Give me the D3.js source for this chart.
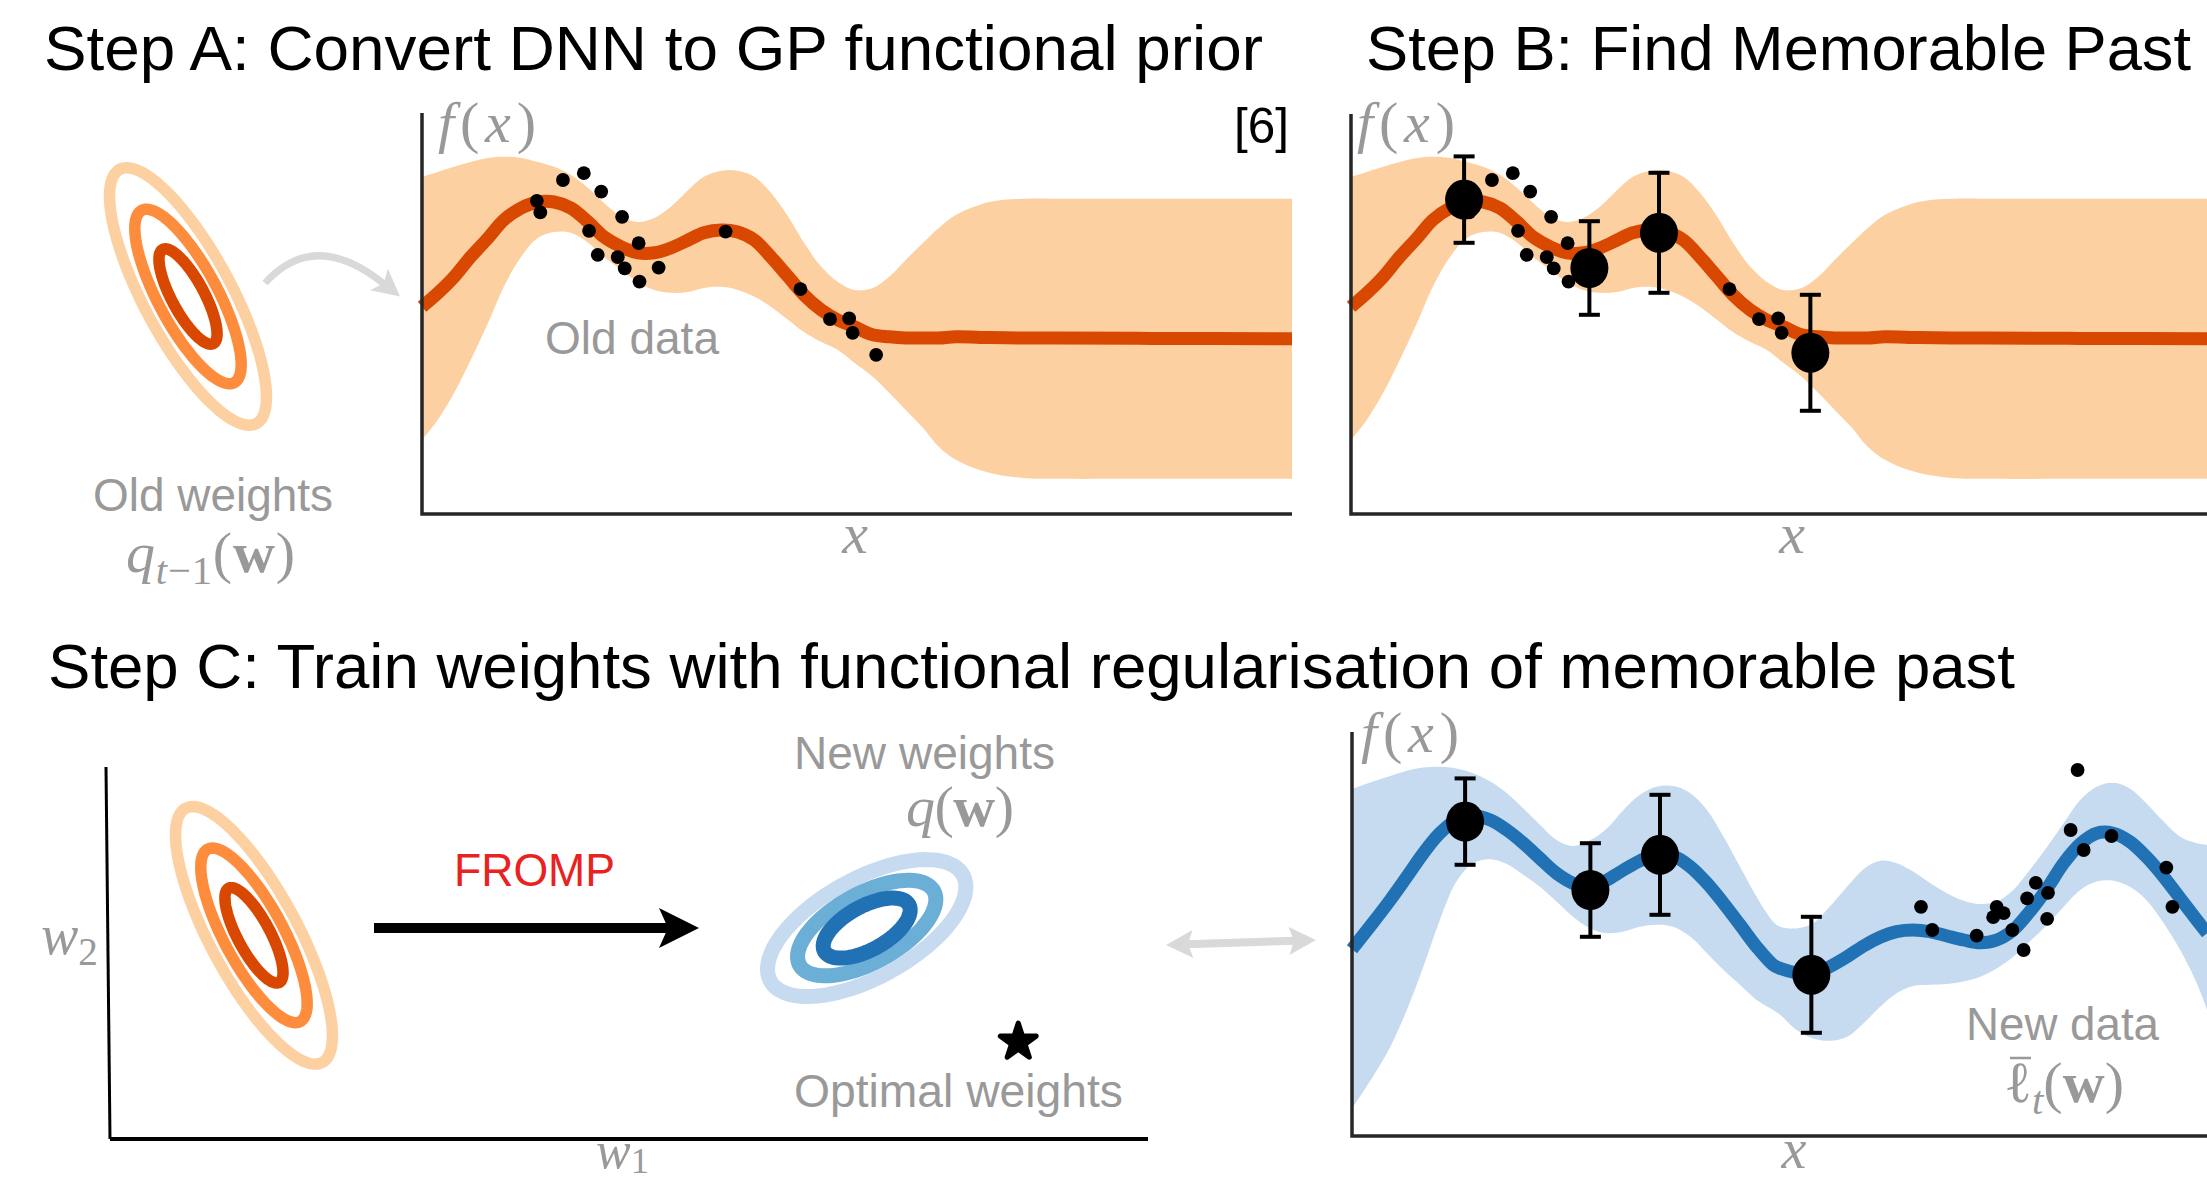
<!DOCTYPE html>
<html>
<head>
<meta charset="utf-8">
<script src="https://cdn.jsdelivr.net/npm/d3@7"></script>
<style>
  body { margin: 0; background: #fff; }
  svg { display: block; }
</style>
</head>
<body>
<script>
// ---- data (x and f(x) in arbitrary units 0..10) ----

// old task GP posterior (steps A and B)
const oldGridX = [0, 0.18, 0.37, 0.56, 0.76, 0.94, 1.14, 1.33, 1.52, 1.71, 1.91, 2.09, 2.29, 2.48, 2.67, 2.86, 3.06, 3.24, 3.44, 3.63, 3.82, 4.01, 4.21, 4.39, 4.59, 4.78, 4.97, 5.18, 5.37, 5.56, 5.76, 5.94, 6.14, 6.52, 6.91, 7.29, 8.37, 10];
const oldMean = [5.18, 5.52, 5.93, 6.43, 6.90, 7.35, 7.65, 7.80, 7.80, 7.65, 7.30, 6.93, 6.68, 6.53, 6.53, 6.65, 6.85, 7.03, 7.10, 7.05, 6.85, 6.43, 5.93, 5.48, 5.10, 4.85, 4.68, 4.48, 4.43, 4.40, 4.40, 4.40, 4.43, 4.41, 4.40, 4.40, 4.39, 4.38];
const oldUpper = [8.43, 8.55, 8.68, 8.80, 8.90, 8.93, 8.90, 8.80, 8.68, 8.48, 8.15, 7.78, 7.43, 7.30, 7.40, 7.68, 8.10, 8.43, 8.58, 8.58, 8.43, 8.03, 7.43, 6.78, 6.18, 5.80, 5.60, 5.65, 5.93, 6.35, 6.78, 7.15, 7.48, 7.80, 7.88, 7.88, 7.88, 7.88];
const oldLower = [1.85, 2.35, 3.03, 3.85, 4.78, 5.68, 6.43, 6.90, 7.05, 7.03, 6.78, 6.43, 6.10, 5.80, 5.60, 5.53, 5.55, 5.65, 5.68, 5.60, 5.43, 5.18, 4.85, 4.55, 4.30, 4.10, 3.78, 3.43, 3.03, 2.60, 2.15, 1.68, 1.35, 1.03, 0.90, 0.88, 0.88, 0.88];

// old data points
const oldDataX = [1.32, 1.36, 1.62, 1.86, 2.06, 2.30, 1.92, 2.49, 2.02, 2.25, 2.33, 2.72, 2.50, 3.49, 4.35, 4.69, 4.91, 4.95, 5.22];
const oldDataY = [7.83, 7.54, 8.35, 8.52, 8.06, 7.43, 7.08, 6.77, 6.48, 6.42, 6.14, 6.16, 5.81, 7.06, 5.62, 4.87, 4.89, 4.53, 3.98];

// memorable past (steps B and C)
const memX = [1.30, 2.74, 3.54, 5.28];
const memY = [7.86, 6.15, 7.03, 4.03];
const memErr = [1.08, 1.17, 1.50, 1.45];

// new task GP posterior (step C)
const newGridX = [0, 0.24, 0.44, 0.63, 0.82, 1.01, 1.20, 1.39, 1.59, 1.78, 1.97, 2.16, 2.35, 2.54, 2.74, 2.93, 3.12, 3.31, 3.50, 3.69, 3.89, 4.08, 4.27, 4.46, 4.65, 4.84, 4.92, 5.11, 5.30, 5.49, 5.69, 5.88, 6.07, 6.26, 6.45, 6.64, 6.84, 7.03, 7.22, 7.41, 7.60, 7.79, 7.99, 8.18, 8.37, 8.56, 8.75, 8.94, 9.13, 9.33, 9.52, 9.71, 9.83];
const newMean = [4.67, 5.33, 5.90, 6.48, 7.07, 7.57, 7.90, 8.00, 7.90, 7.65, 7.32, 6.94, 6.57, 6.32, 6.19, 6.40, 6.65, 6.88, 7.03, 7.00, 6.73, 6.32, 5.82, 5.28, 4.73, 4.28, 4.19, 4.08, 4.05, 4.23, 4.48, 4.75, 4.97, 5.11, 5.15, 5.11, 5.00, 4.90, 4.83, 4.90, 5.15, 5.61, 6.19, 6.82, 7.30, 7.57, 7.57, 7.36, 6.98, 6.48, 5.94, 5.40, 5.07];
const newUpper = [8.67, 8.86, 9.00, 9.13, 9.21, 9.23, 9.19, 9.07, 8.86, 8.57, 8.19, 7.78, 7.40, 7.25, 7.40, 7.69, 8.15, 8.53, 8.73, 8.75, 8.57, 8.15, 7.48, 6.73, 5.98, 5.36, 5.23, 5.19, 5.32, 5.73, 6.23, 6.67, 6.88, 6.82, 6.61, 6.33, 6.07, 5.88, 5.80, 5.86, 6.15, 6.65, 7.23, 7.82, 8.40, 8.73, 8.83, 8.69, 8.32, 7.86, 7.48, 7.32, 7.28];
const newLower = [0.69, 1.48, 2.23, 3.15, 4.23, 5.40, 6.36, 6.82, 6.92, 6.80, 6.53, 6.23, 5.86, 5.48, 5.19, 5.07, 5.11, 5.23, 5.28, 5.23, 4.98, 4.57, 4.15, 3.78, 3.40, 3.15, 3.03, 2.65, 2.44, 2.38, 2.48, 2.82, 3.23, 3.57, 3.75, 3.78, 3.80, 3.86, 3.98, 4.19, 4.48, 4.86, 5.28, 5.73, 6.15, 6.36, 6.38, 6.23, 5.90, 5.32, 4.65, 3.82, 3.15];

// new data points
const newDataX = [6.54, 6.67, 7.18, 7.41, 7.37, 7.49, 7.59, 7.72, 7.76, 7.86, 8.00, 7.99, 8.26, 8.34, 8.41, 8.73, 9.36, 9.43];
const newDataY = [5.73, 5.15, 5.01, 5.73, 5.47, 5.57, 5.15, 4.65, 5.94, 6.33, 6.08, 5.43, 7.65, 9.15, 7.15, 7.50, 6.71, 5.73];

// weight space gaussians (w1, w2)
const oldWCenter = [1.387, 1.96];
const oldWSd = [0.28, 0.459];
const oldWRho = -0.78;
const oldWLevels = [1, 1.83, 2.7];
const newWCenter = [7.29, 2.03];
const newWSd = [0.419, 0.289];
const newWRho = 0.6;
const newWLevels = [1, 1.59, 2.28];
const optimalW = [8.75, 0.934];

// ---- styling ----
const W = 2207, H = 1182;
const GREY = '#999999';
const SANS = '"Liberation Sans", Arial, Helvetica, sans-serif';
const SERIF = '"Liberation Serif", "DejaVu Serif", serif';
const orangeRings = ['#d94801', '#fd8d3c', '#fdd0a2'];
const blueRings = ['#2171b5', '#6baed6', '#c6dbef'];

const svg = d3.select('body').append('svg')
  .attr('width', W).attr('height', H)
  .style('background', '#fff');

// scales
const xA = d3.scaleLinear().domain([0, 10]).range([422, 1292]);
const xB = d3.scaleLinear().domain([0, 10]).range([1351, 2221]);
const xC = d3.scaleLinear().domain([0, 10]).range([1352, 2222]);
const yAB = d3.scaleLinear().domain([0, 10]).range([514, 114]);
const yC = d3.scaleLinear().domain([0, 10.1]).range([1136, 732]);
const w1 = d3.scaleLinear().domain([0, 10]).range([110, 1148]);
const w2 = d3.scaleLinear().domain([0, 3.58]).range([1139, 767]);

const zipGP = (xs, m, lo, hi) => xs.map((x, i) => ({ x: x, m: m[i], lo: lo[i], hi: hi[i] }));
const oldGP = zipGP(oldGridX, oldMean, oldLower, oldUpper);
const newGP = zipGP(newGridX, newMean, newLower, newUpper);
const oldPts = oldDataX.map((x, i) => ({ x: x, y: oldDataY[i] }));
const newPts = newDataX.map((x, i) => ({ x: x, y: newDataY[i] }));
const memPts = memX.map((x, i) => ({ x: x, y: memY[i], e: memErr[i] }));

function drawGP(g, sx, sy, gp, band, line) {
  const area = d3.area().curve(d3.curveCatmullRom)
    .x(d => sx(d.x)).y0(d => sy(d.lo)).y1(d => sy(d.hi));
  const mean = d3.line().curve(d3.curveCatmullRom)
    .x(d => sx(d.x)).y(d => sy(d.m));
  g.append('path').attr('d', area(gp)).attr('fill', band);
  g.append('path').attr('d', mean(gp)).attr('fill', 'none')
    .attr('stroke', line).attr('stroke-width', 13);
}

function drawDots(g, sx, sy, pts) {
  g.selectAll(null).data(pts).enter().append('circle')
    .attr('cx', d => sx(d.x)).attr('cy', d => sy(d.y)).attr('r', 6.9)
    .attr('fill', '#000');
}

function drawMemorable(g, sx, sy) {
  const eb = g.selectAll(null).data(memPts).enter().append('g')
    .attr('stroke', '#000').attr('stroke-width', 4);
  eb.append('line').attr('x1', d => sx(d.x)).attr('x2', d => sx(d.x))
    .attr('y1', d => sy(d.y + d.e)).attr('y2', d => sy(d.y - d.e));
  [1, -1].forEach(s => {
    eb.append('line').attr('x1', d => sx(d.x) - 10.5).attr('x2', d => sx(d.x) + 10.5)
      .attr('y1', d => sy(d.y + s * d.e)).attr('y2', d => sy(d.y + s * d.e));
  });
  g.selectAll(null).data(memPts).enter().append('ellipse')
    .attr('cx', d => sx(d.x)).attr('cy', d => sy(d.y))
    .attr('rx', 19).attr('ry', 20).attr('fill', '#000');
}

function drawAxes(g, x0, yTop, yBot, xEnd, color) {
  g.append('path').attr('d', `M${x0},${yTop}V${yBot}H${xEnd}`)
    .attr('fill', 'none').attr('stroke', color).attr('stroke-width', 3.5);
}

// ellipse contour of a correlated gaussian in weight space
function ellipsePath(center, sd, rho, k) {
  const pts = d3.range(0, 361, 3).map(a => {
    const t = a * Math.PI / 180;
    const u = Math.cos(t), v = Math.sin(t);
    return [w1(center[0] + k * sd[0] * u),
            w2(center[1] + k * sd[1] * (rho * u + Math.sqrt(1 - rho * rho) * v))];
  });
  return d3.line().curve(d3.curveLinearClosed)(pts);
}

function drawRings(g, center, sd, rho, levels, colors, sw) {
  levels.slice().reverse().forEach((k, i) => {
    g.append('path').attr('d', ellipsePath(center, sd, rho, k))
      .attr('fill', 'none').attr('stroke', colors[levels.length - 1 - i])
      .attr('stroke-width', sw);
  });
}

function text(x, y, str, size, color, opts) {
  opts = opts || {};
  const t = svg.append('text').attr('x', x).attr('y', y).text(str)
    .attr('font-family', SANS).attr('font-size', size).attr('fill', color);
  if (opts.anchor) t.attr('text-anchor', opts.anchor);
  if (opts.len) t.attr('textLength', opts.len).attr('lengthAdjust', 'spacingAndGlyphs');
  return t;
}

function mathLabel(x, y, parts, size, opts) {
  opts = opts || {};
  const t = svg.append('text').attr('x', x).attr('y', y)
    .attr('font-family', SERIF).attr('font-size', size).attr('fill', GREY);
  if (opts.anchor) t.attr('text-anchor', opts.anchor);
  if (opts.len) t.attr('textLength', opts.len);
  const drop = opts.drop != null ? opts.drop : size * 0.2;
  let shift = 0;
  parts.forEach(p => {
    const s = t.append('tspan').text(p.t);
    const want = p.sub ? drop : 0;
    if (want !== shift) { s.attr('dy', want - shift); shift = want; }
    if (p.sub) s.attr('font-size', size * 0.7);
    if (p.it) s.attr('font-style', 'italic');
    if (p.bf) s.attr('font-weight', 'bold');
  });
  return t;
}

function arrowHead(tip, dir, len, hw, notch) {
  const n = Math.hypot(dir[0], dir[1]);
  const ux = dir[0] / n, uy = dir[1] / n, px = -uy, py = ux;
  const bx = tip[0] - len * ux, by = tip[1] - len * uy;
  return `M${tip[0]},${tip[1]}L${bx + hw * px},${by + hw * py}` +
    `L${bx + notch * ux},${by + notch * uy}L${bx - hw * px},${by - hw * py}Z`;
}

// ---- Step A ----
const gA = svg.append('g');
drawGP(gA, xA, yAB, oldGP, '#fdd0a2', '#d94801');
drawDots(gA, xA, yAB, oldPts);
drawAxes(gA, xA(0), 113, yAB(0), xA(10), '#262626');

// old weights (same gaussian as in step C, moved next to the plot)
const ringsA = svg.append('g')
  .attr('transform', `translate(${188 - w1(oldWCenter[0])},${296.5 - w2(oldWCenter[1])})`);
drawRings(ringsA, oldWCenter, oldWSd, oldWRho, oldWLevels, orangeRings, 11.5);

// curved arrow into the plot
svg.append('path').attr('d', 'M265,283Q315,228 384,284')
  .attr('fill', 'none').attr('stroke', '#d9d9d9').attr('stroke-width', 7);
svg.append('path').attr('d', arrowHead([400, 296.5], [69, 56], 27, 14, 6)).attr('fill', '#d9d9d9');

// ---- Step B ----
const gB = svg.append('g');
drawGP(gB, xB, yAB, oldGP, '#fdd0a2', '#d94801');
drawDots(gB, xB, yAB, oldPts);
drawMemorable(gB, xB, yAB);
drawAxes(gB, xB(0), 114, yAB(0), xB(10), '#262626');

// ---- Step C, right: new GP ----
const gC = svg.append('g');
drawGP(gC, xC, yC, newGP, '#c6dbef', '#2171b5');
drawDots(gC, xC, yC, newPts);
drawMemorable(gC, xC, yC);
drawAxes(gC, xC(0), yC(10.1), yC(0), xC(10), '#262626');

// ---- Step C, left: weight space ----
const gW = svg.append('g');
gW.append('line').attr('x1', 106).attr('y1', w2(3.58)).attr('x2', w1(0)).attr('y2', w2(0))
  .attr('stroke', '#000').attr('stroke-width', 3);
gW.append('line').attr('x1', w1(0)).attr('y1', w2(0)).attr('x2', w1(10)).attr('y2', w2(0))
  .attr('stroke', '#000').attr('stroke-width', 4);
drawRings(gW, oldWCenter, oldWSd, oldWRho, oldWLevels, orangeRings, 11.5);
drawRings(gW, newWCenter, newWSd, newWRho, newWLevels, blueRings, 15);
gW.append('path')
  .attr('d', d3.symbol(d3.symbolStar, 400)())
  .attr('transform', `translate(${w1(optimalW[0])},${w2(optimalW[1])})`)
  .attr('fill', '#000').attr('stroke', '#000').attr('stroke-width', 5)
  .attr('stroke-linejoin', 'round');

// FROMP arrow
svg.append('rect').attr('x', 374).attr('y', 923).attr('width', 296).attr('height', 10).attr('fill', '#000');
svg.append('path').attr('d', arrowHead([699, 928], [1, 0], 40, 20, 9)).attr('fill', '#000');

// grey double arrow between weight space and function space
const dblL = [1166, 945], dblR = [1316, 940];
const dd = [dblR[0] - dblL[0], dblR[1] - dblL[1]];
svg.append('line').attr('x1', dblL[0] + 20).attr('y1', dblL[1] - 0.67)
  .attr('x2', dblR[0] - 20).attr('y2', dblR[1] + 0.67)
  .attr('stroke', '#d9d9d9').attr('stroke-width', 8);
svg.append('path').attr('d', arrowHead(dblR, dd, 27, 14, 5)).attr('fill', '#d9d9d9');
svg.append('path').attr('d', arrowHead(dblL, [-dd[0], -dd[1]], 27, 14, 5)).attr('fill', '#d9d9d9');

// ---- titles ----
text(44, 70, 'Step A: Convert DNN to GP functional prior', 63, '#000', { len: 1219 });
text(1366, 70, 'Step B: Find Memorable Past', 63, '#000', { len: 825 });
text(48, 688, 'Step C: Train weights with functional regularisation of memorable past', 63, '#000', { len: 1967 });
text(1289, 143, '[6]', 50, '#000', { anchor: 'end', len: 55 });

// ---- annotations ----
text(545, 354, 'Old data', 46, GREY, { len: 174 });
text(93, 511, 'Old weights', 46, GREY, { len: 240 });
text(794, 769, 'New weights', 46, GREY, { len: 261 });
text(794, 1107, 'Optimal weights', 46, GREY, { len: 329 });
text(1966, 1040, 'New data', 46, GREY, { len: 193 });
text(454, 886, 'FROMP', 46, '#e8231f', { len: 161 });

const fx = [{ t: 'f', it: 1 }, { t: '(' }, { t: 'x', it: 1 }, { t: ')' }];
mathLabel(438, 142, fx, 58, { len: 98 });
mathLabel(1357, 142, fx, 58, { len: 98 });
mathLabel(1361, 752, fx, 58, { len: 98 });
mathLabel(855, 553, [{ t: 'x', it: 1 }], 58, { anchor: 'middle' });
mathLabel(1792, 553, [{ t: 'x', it: 1 }], 58, { anchor: 'middle' });
mathLabel(1794, 1168, [{ t: 'x', it: 1 }], 56, { anchor: 'middle' });
mathLabel(596, 1168, [{ t: 'w', it: 1 }, { t: '1', sub: 1 }], 52, { drop: 5 });
mathLabel(41, 954, [{ t: 'w', it: 1 }, { t: '2', sub: 1 }], 56);
mathLabel(126, 572, [{ t: 'q', it: 1 }, { t: 't', it: 1, sub: 1 }, { t: '\u22121', sub: 1 },
  { t: '(' }, { t: 'w', bf: 1 }, { t: ')' }], 58, { len: 169 });
mathLabel(906, 826, [{ t: 'q', it: 1 }, { t: '(' }, { t: 'w', bf: 1 }, { t: ')' }], 58, { len: 108 });
mathLabel(2004, 1102, [{ t: '\u2113' }, { t: 't', it: 1, sub: 1 }, { t: '(' }, { t: 'w', bf: 1 }, { t: ')' }], 58, { len: 120 });
svg.append('line').attr('x1', 2010).attr('x2', 2031).attr('y1', 1058).attr('y2', 1058)
  .attr('stroke', GREY).attr('stroke-width', 2.5);
</script>
</body>
</html>
